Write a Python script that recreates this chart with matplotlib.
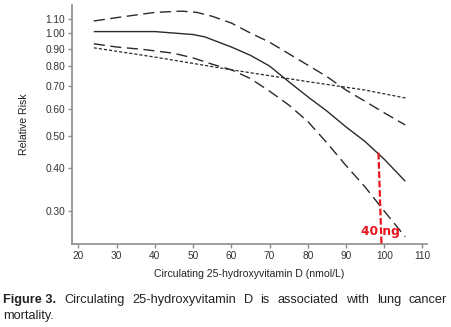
import matplotlib
matplotlib.use("Agg")
import matplotlib.pyplot as plt
from matplotlib.ticker import FixedLocator, FixedFormatter, NullLocator

plt.rcParams['font.family'] = ['Liberation Sans', 'DejaVu Sans']

# Data
x_rr = [24, 30, 40, 45, 50, 53, 60, 65, 70, 75, 80, 85, 90, 95, 100, 105.5]
rr = [1.01, 1.01, 1.01, 1.0, 0.99, 0.975, 0.91, 0.86, 0.80, 0.72, 0.65, 0.59, 0.53, 0.48, 0.426, 0.367]

x_up = [24, 30, 35, 40, 47, 51, 55, 60, 65, 70, 75, 80, 85, 90, 95, 100, 105.5]
upper = [1.085, 1.11, 1.13, 1.15, 1.16, 1.15, 1.12, 1.07, 1.0, 0.94, 0.87, 0.805, 0.745, 0.68, 0.63, 0.583, 0.537]

x_lo = [24, 30, 37, 45, 50, 55, 60, 65, 70, 75, 80, 85, 90, 95, 100, 105.5]
lower = [0.93, 0.91, 0.895, 0.872, 0.845, 0.81, 0.78, 0.735, 0.675, 0.615, 0.55, 0.476, 0.408, 0.353, 0.30, 0.252]

x_ref = [24, 40, 60, 80, 95, 106]
ref = [0.905, 0.85, 0.78, 0.72, 0.68, 0.643]

marker_x = [98.5, 99.3]
marker_y = [0.445, 0.237]
marker_label = "40 ng"

yticks = [0.30, 0.40, 0.50, 0.60, 0.70, 0.80, 0.90, 1.00, 1.10]
xticks = [20, 30, 40, 50, 60, 70, 80, 90, 100, 110]

caption_bold = "Figure 3."
caption_line1 = "Circulating 25-hydroxyvitamin D is associated with lung cancer"
caption_line2 = "mortality."

fig = plt.figure(figsize=(4.51, 3.27), dpi=100)
ax = fig.add_axes([0.1596, 0.2538, 0.9468 - 0.1596, 0.9847 - 0.2538])

lc = '#2a2a2a'
ax.plot(x_rr, rr, color=lc, lw=1.0, solid_capstyle='butt')
ax.plot(x_up, upper, color=lc, lw=1.0, dashes=(8, 4))
ax.plot(x_lo, lower, color=lc, lw=1.0, dashes=(8, 4))
ax.plot(x_ref, ref, color=lc, lw=0.9, dashes=(2.5, 1.6))

ax.plot(marker_x, marker_y, color='#e8151b', lw=1.6, dashes=(3, 1.2), clip_on=False, zorder=5)
ax.text(98.9, 0.262, marker_label, color='#e8151b', fontsize=8.8, fontweight='bold',
        ha='center', va='center', family=['DejaVu Sans'])

ax.set_yscale('log')
ax.set_xlim(18.3, 111.2)
ax.set_ylim(0.240, 1.209)
ax.yaxis.set_major_locator(FixedLocator(yticks))
ax.yaxis.set_major_formatter(FixedFormatter(["%.2f" % v for v in yticks]))
ax.yaxis.set_minor_locator(NullLocator())
ax.set_xticks(xticks)

for s in ['top', 'right']:
    ax.spines[s].set_visible(False)
sc = '#8c8c8c'
for s in ['left', 'bottom']:
    ax.spines[s].set_color(sc)
    ax.spines[s].set_linewidth(1.2)
ax.tick_params(axis='both', colors=sc, labelcolor='#333333', labelsize=7.3, length=3, width=1.0, pad=2)

ax.set_ylabel("Relative Risk", fontsize=7.6, color='#222222', labelpad=12)
ax.set_xlabel("Circulating 25-hydroxyvitamin D (nmol/L)", fontsize=7.6, color='#222222', labelpad=6)

# Caption: first line justified between x=3 and x=447 px
W, H = 451, 327
fs = 9.2
x0, x1 = 3, 447
y1, y2 = 300, 316
renderer = fig.canvas.get_renderer()
words = [(caption_bold, 'bold')] + [(w, 'normal') for w in caption_line1.split()]
texts = []
for w, fw in words:
    t = fig.text(0, 1 - y1 / H, w, fontsize=fs, fontweight=fw, color='#222222', va='center', ha='left')
    texts.append(t)
widths = [t.get_window_extent(renderer).width for t in texts]
gap = ((x1 - x0) - sum(widths)) / (len(texts) - 1)
cx = x0
for t, wd in zip(texts, widths):
    t.set_x(cx / W)
    cx += wd + gap
fig.text(x0 / W, 1 - y2 / H, caption_line2, fontsize=fs, color='#222222', va='center', ha='left')

fig.savefig("out.png", dpi=100)
